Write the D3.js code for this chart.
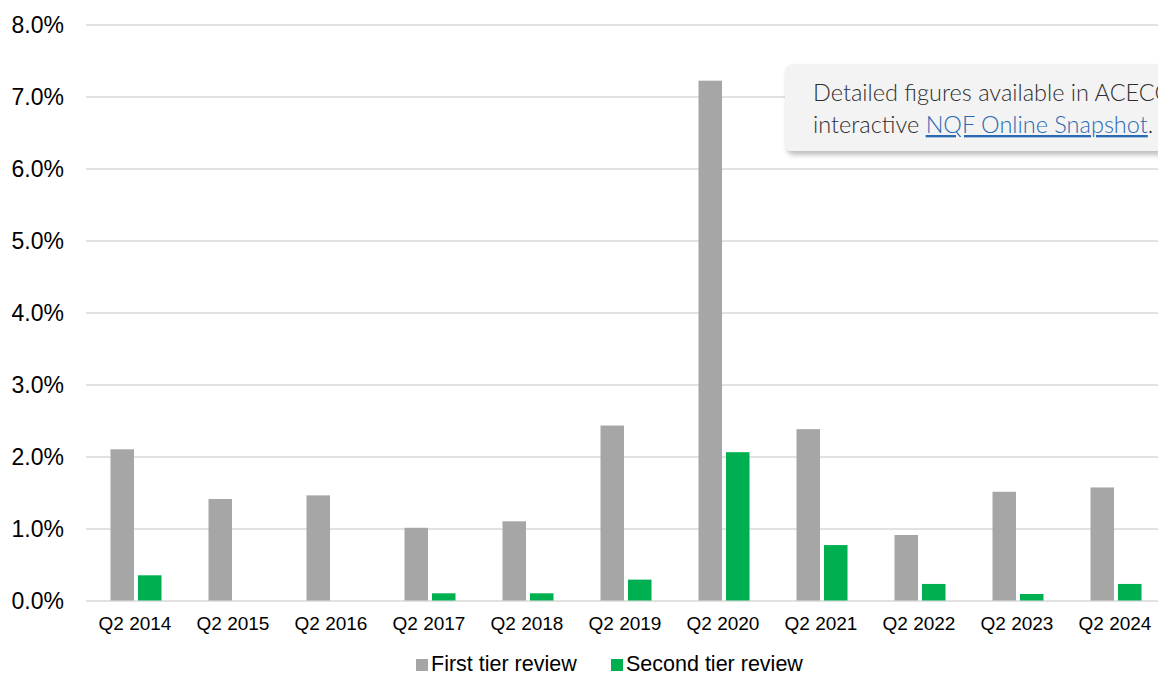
<!DOCTYPE html>
<html>
<head>
<meta charset="utf-8">
<script src="https://cdn.jsdelivr.net/npm/d3@7"></script>
<style>
  body { margin: 0; background: #fff; }
  svg { display: block; }
</style>
</head>
<body>
<div id="content"></div>
<script>
// Data
var quarters = ["Q2 2014", "Q2 2015", "Q2 2016", "Q2 2017", "Q2 2018", "Q2 2019",
                "Q2 2020", "Q2 2021", "Q2 2022", "Q2 2023", "Q2 2024"];
var firstTier  = [2.10, 1.41, 1.46, 1.01, 1.10, 2.43, 7.22, 2.38, 0.91, 1.51, 1.57];
var secondTier = [0.35, 0, 0, 0.10, 0.10, 0.29, 2.06, 0.77, 0.23, 0.09, 0.23];
var seriesNames = ["First tier review", "Second tier review"];
var yTicks = [0, 1, 2, 3, 4, 5, 6, 7, 8];

var width = 1158, height = 675;
var colors = ["#a6a6a6", "#00b050"];

var svg = d3.select("#content").append("svg")
    .attr("width", width)
    .attr("height", height);

// Scales
var x = d3.scaleBand()
    .domain(quarters)
    .range([86, 86 + quarters.length * 98]);

var x1 = d3.scaleBand()
    .domain(seriesNames)
    .range([24.5, 75.5])
    .paddingInner(0.145);

var y = d3.scaleLinear()
    .domain([0, 8])
    .range([600.5, 24.5]);

var color = d3.scaleOrdinal().domain(seriesNames).range(colors);

// Grid + y labels
var yAxis = svg.append("g")
    .attr("transform", "translate(86,0)")
    .call(d3.axisLeft(y).tickValues(yTicks).tickSize(-(width - 86)).tickPadding(22)
      .tickFormat(d => d.toFixed(1) + "%"));
yAxis.select(".domain").remove();
yAxis.selectAll(".tick line").attr("stroke", "#d9d9d9").attr("stroke-width", 1.5);
yAxis.selectAll(".tick text")
    .attr("fill", "#000")
    .style("font-family", "Arial, 'Liberation Sans', sans-serif")
    .style("font-size", "23px")
    .attr("dy", "0.36em");

// Bars
var rows = quarters.map((q, i) => ({q: q, values: [firstTier[i], secondTier[i]]}));

var groups = svg.append("g").selectAll("g")
    .data(rows)
  .join("g")
    .attr("transform", d => "translate(" + x(d.q) + ",0)");

groups.selectAll("rect")
    .data(d => d.values.map((v, j) => ({name: seriesNames[j], value: v})))
  .join("rect")
    .attr("x", d => x1(d.name))
    .attr("width", x1.bandwidth())
    .attr("y", d => y(d.value))
    .attr("height", d => y(0) - y(d.value))
    .attr("fill", d => color(d.name));

// x labels
var xAxis = svg.append("g")
    .attr("transform", "translate(0," + y(0) + ")")
    .call(d3.axisBottom(x).tickSize(0).tickPadding(16));
xAxis.select(".domain").remove();
xAxis.selectAll(".tick text")
    .attr("fill", "#000")
    .style("font-family", "Arial, 'Liberation Sans', sans-serif")
    .style("font-size", "19px");

// Legend
var legendX = [416, 611];
var legend = svg.append("g").selectAll("g")
    .data(seriesNames)
  .join("g")
    .attr("transform", (d, i) => "translate(" + legendX[i] + ",659)");
legend.append("rect")
    .attr("width", 12).attr("height", 12)
    .attr("fill", d => color(d));
legend.append("text")
    .attr("x", 15).attr("y", 12)
    .style("font-family", "Arial, 'Liberation Sans', sans-serif")
    .style("font-size", "21.5px")
    .attr("fill", "#000")
    .text(d => d);

// Callout box
var defs = svg.append("defs");
var f = defs.append("filter").attr("id", "shadow")
    .attr("x", "-10%").attr("y", "-20%").attr("width", "130%").attr("height", "150%");
f.append("feDropShadow")
    .attr("dx", 2).attr("dy", 4).attr("stdDeviation", 2.5)
    .attr("flood-color", "#000").attr("flood-opacity", 0.25);

var callout = svg.append("g");
callout.append("rect")
    .attr("x", 785).attr("y", 64)
    .attr("width", 420).attr("height", 87)
    .attr("rx", 7)
    .attr("fill", "#f3f3f3")
    .attr("filter", "url(#shadow)");

var calloutFont = "Lato, 'Open Sans', sans-serif";
callout.append("text")
    .attr("x", 813).attr("y", 101)
    .style("font-family", calloutFont)
    .style("font-size", "23.5px")
    .style("font-weight", 300)
    .attr("fill", "#2f2f2f")
    .text("Detailed figures available in ACECQA's");
var line2 = callout.append("text")
    .attr("x", 813).attr("y", 133)
    .style("font-family", calloutFont)
    .style("font-size", "23.5px")
    .style("font-weight", 300)
    .attr("fill", "#2f2f2f");
line2.append("tspan").text("interactive ");
line2.append("tspan")
    .attr("fill", "#2a6ab3")
    .style("text-decoration", "underline")
    .text("NQF Online Snapshot");
line2.append("tspan").text(".");
</script>
</body>
</html>
